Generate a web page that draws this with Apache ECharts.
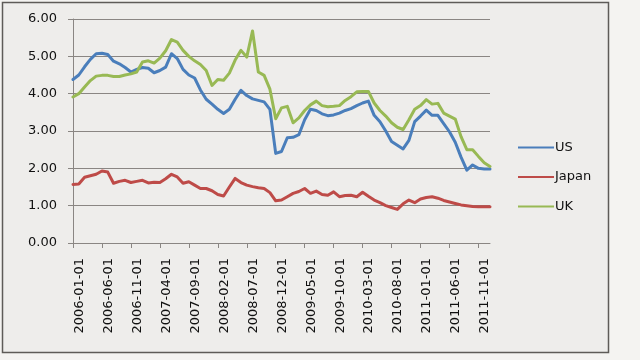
<!DOCTYPE html>
<html>
<head>
<meta charset="utf-8">
<script src="https://cdn.jsdelivr.net/npm/echarts@6/dist/echarts.min.js"></script>
<style>
html,body{margin:0;padding:0;background:#f4f3f1;}
#c{width:640px;height:360px;}
</style>
</head>
<body>
<div id="c"></div>
<script>
const categories = [
"2006-01-01","2006-02-01","2006-03-01","2006-04-01","2006-05-01","2006-06-01","2006-07-01","2006-08-01","2006-09-01","2006-10-01","2006-11-01","2006-12-01",
"2007-01-01","2007-02-01","2007-03-01","2007-04-01","2007-05-01","2007-06-01","2007-07-01","2007-08-01","2007-09-01","2007-10-01","2007-11-01","2007-12-01",
"2008-01-01","2008-02-01","2008-03-01","2008-04-01","2008-05-01","2008-06-01","2008-07-01","2008-08-01","2008-09-01","2008-10-01","2008-11-01","2008-12-01",
"2009-01-01","2009-02-01","2009-03-01","2009-04-01","2009-05-01","2009-06-01","2009-07-01","2009-08-01","2009-09-01","2009-10-01","2009-11-01","2009-12-01",
"2010-01-01","2010-02-01","2010-03-01","2010-04-01","2010-05-01","2010-06-01","2010-07-01","2010-08-01","2010-09-01","2010-10-01","2010-11-01","2010-12-01",
"2011-01-01","2011-02-01","2011-03-01","2011-04-01","2011-05-01","2011-06-01","2011-07-01","2011-08-01","2011-09-01","2011-10-01","2011-11-01","2011-12-01",
"2012-01-01"
];

const usValues = [
4.38,4.50,4.72,4.92,5.07,5.08,5.05,4.87,4.80,4.70,4.58,4.65,
4.70,4.68,4.56,4.62,4.71,5.07,4.94,4.65,4.50,4.42,4.10,3.85,
3.72,3.58,3.47,3.58,3.85,4.09,3.95,3.86,3.82,3.78,3.58,2.40,
2.45,2.82,2.83,2.90,3.30,3.58,3.55,3.46,3.41,3.43,3.48,3.55,
3.60,3.68,3.75,3.80,3.42,3.25,3.00,2.72,2.62,2.52,2.75,3.25,
3.40,3.56,3.42,3.42,3.20,2.98,2.70,2.30,1.95,2.09,2.00,1.98,
1.98
];

const japanValues = [
1.57,1.58,1.76,1.80,1.84,1.93,1.90,1.60,1.65,1.68,1.62,1.65,
1.68,1.61,1.63,1.62,1.72,1.84,1.77,1.60,1.64,1.55,1.46,1.46,
1.40,1.30,1.26,1.50,1.73,1.62,1.55,1.51,1.48,1.46,1.35,1.13,
1.15,1.24,1.33,1.38,1.46,1.33,1.39,1.30,1.28,1.37,1.24,1.27,
1.28,1.24,1.36,1.25,1.15,1.08,1.00,0.95,0.90,1.05,1.15,1.08,
1.18,1.22,1.24,1.20,1.14,1.10,1.06,1.02,1.00,0.98,0.97,0.97,
0.97
];

const ukValues = [
3.91,4.00,4.18,4.35,4.47,4.49,4.49,4.46,4.46,4.50,4.53,4.58,
4.85,4.88,4.82,4.95,5.15,5.45,5.38,5.16,5.00,4.88,4.78,4.62,
4.22,4.38,4.36,4.55,4.90,5.16,4.98,5.68,4.58,4.49,4.12,3.33,
3.62,3.66,3.22,3.35,3.55,3.70,3.80,3.68,3.65,3.66,3.68,3.82,
3.92,4.05,4.06,4.06,3.75,3.55,3.40,3.22,3.10,3.04,3.30,3.58,
3.68,3.84,3.72,3.74,3.48,3.40,3.32,2.85,2.50,2.50,2.32,2.15,
2.05
];

const seriesNames = ["US","Japan","UK"];
const seriesColors = ["#4a7ebb","#be4b48","#98b954"];
const yTicks = [0,1,2,3,4,5,6];

const chart = echarts.init(document.getElementById('c'), null, {renderer:'canvas'});
const font = "DejaVu Sans";
const gridColor = "#8a8683";

chart.setOption({
  backgroundColor: 'transparent',
  animation: false,
  textStyle: {fontFamily: font},
  graphic: [{
    type: 'rect',
    shape: {x: 2.5, y: 2.5, width: 606, height: 350},
    style: {fill: '#eeedeb', stroke: '#5e5b58', lineWidth: 1.5},
    z: -10
  }],
  grid: {left: 73, right: 150, top: 19, bottom: 117, containLabel: false},
  legend: {
    orient: 'vertical',
    left: 513,
    top: 136,
    itemWidth: 36,
    itemHeight: 2,
    itemGap: 16.5,
    icon: 'rect',
    textStyle: {fontFamily: font, fontSize: 13, color: '#111', padding: [0,0,0,-4]},
    data: seriesNames
  },
  xAxis: {
    type: 'category',
    data: categories,
    boundaryGap: false,
    axisLine: {show: true, lineStyle: {color: gridColor, width: 1}},
    axisTick: {show: true, interval: 4, length: 5, lineStyle: {color: gridColor}},
    axisLabel: {interval: 4, rotate: 90, margin: 15, verticalAlign: 'top', fontFamily: font, fontSize: 13, color: '#111'},
    splitLine: {show: false}
  },
  yAxis: {
    type: 'value',
    min: yTicks[0],
    max: yTicks[yTicks.length-1],
    interval: 1,
    axisLine: {show: true, lineStyle: {color: gridColor, width: 1}},
    axisTick: {show: true, length: 5, lineStyle: {color: gridColor}},
    axisLabel: {margin: 16, fontFamily: font, fontSize: 13, color: '#111', formatter: v => v.toFixed(2)},
    splitLine: {show: true, lineStyle: {color: gridColor, width: 1}}
  },
  series: [usValues, japanValues, ukValues].map((d, i) => ({
    name: seriesNames[i],
    type: 'line',
    data: d,
    showSymbol: false,
    symbol: 'none',
    smooth: false,
    color: seriesColors[i],
    lineStyle: {width: 3, color: seriesColors[i], join: 'round', cap: 'round'}
  }))
});
</script>
</body>
</html>
